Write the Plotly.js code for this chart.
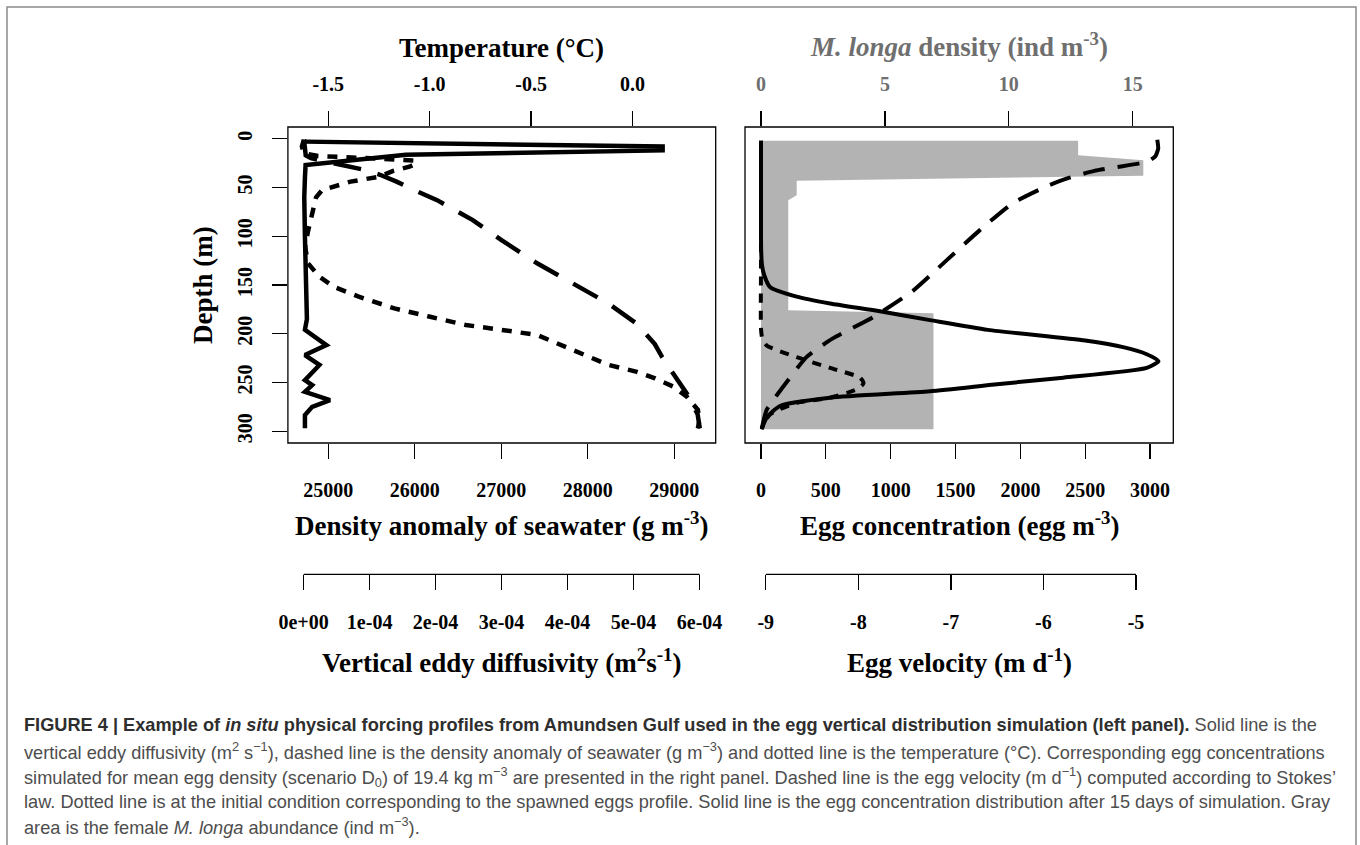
<!DOCTYPE html>
<html><head><meta charset="utf-8">
<script src="https://cdn.plot.ly/plotly-3.0.1.min.js"></script>
<style>html,body{margin:0;padding:0;background:#fff;} #chart{width:1360px;height:845px;}</style>
</head><body><div id="chart"></div>
<script>
// ---------------- DATA ----------------
// Left panel
const depthTemp = [1, 8, 15, 17.8, 19.5, 21, 22.5, 26, 28.7, 33, 39, 44, 52.6, 60, 76.5, 95, 110.8, 127.8, 141.5, 151.8, 162, 174, 182.6, 191, 196, 201.3, 216.7, 232, 239, 245.7, 254, 264.6, 278, 288.5, 297];
const temperature = [-1.62, -1.63, -1.62, -1.55, -1.35, -1.15, -1.07, -1.07, -1.1, -1.18, -1.25, -1.39, -1.53, -1.56, -1.58, -1.6, -1.614, -1.6, -1.544, -1.473, -1.35, -1.174, -0.998, -0.822, -0.646, -0.47, -0.294, -0.118, 0.022, 0.111, 0.199, 0.268, 0.322, 0.33, 0.322];

const depthDens = [1, 10, 17, 20, 23, 27, 32, 37, 44, 52.6, 63, 83.5, 104, 128, 149, 169, 190, 210.6, 224, 245, 262, 282.5, 297];
const densityAnomaly = [24720, 24725, 24740, 24800, 24950, 25200, 25420, 25599, 25790, 25990, 26259, 26671, 27003, 27420, 27830, 28240, 28570, 28775, 28860, 29020, 29150, 29270, 29295];

const depthKz = [2, 3, 8, 12, 16.5, 27, 40, 60, 100, 150, 185, 196, 204, 211.6, 221.8, 232, 247.5, 252.6, 259.5, 268, 274.9, 283.4, 297];
const eddyDiffusivity = [0.0000005, 0.000002, 0.000544, 0.000544, 0.000155, 0.000003, 0.000002, 0.000001, 0.000002, 0.000003, 0.000005, 0.000002, 0.000018, 0.0000345, 0.000002, 0.000024, 0.000002, 0.000013, 0.000002, 0.00004, 0.000013, 0.000002, 0.000002];

// Right panel
const depthLonga = [2, 17, 22, 38, 43, 58, 63, 176, 179, 298];
const longaDensity = [12.8, 12.8, 15.43, 15.43, 1.44, 1.44, 1.1, 1.1, 6.96, 6.96];

const depthEgg15 = [2, 50, 100, 118, 130, 140, 152, 162, 169, 177, 186, 196, 207, 214, 221, 228, 235, 245, 252, 259, 265.6, 274, 286, 298];
const eggConc15d = [0, 0, 0, 2, 8, 25, 69, 275, 532, 917, 1303, 1750, 2500, 2800, 2974, 3065, 2974, 2331, 1800, 1303, 532, 146, 44, 5];

const depthEgg0 = [2, 130, 195, 205, 212, 224, 235, 245, 251, 257, 265.6, 270.8, 282.7, 297];
const eggConcInit = [0, 0, 0, 10, 44, 275, 532, 763, 790, 738, 532, 275, 69, 5];

const depthVel = [1, 10, 18, 22, 25, 29, 33, 40, 49, 66, 94, 125, 156, 183, 205, 224, 254, 278, 296];
const eggVelocity = [-4.77, -4.76, -4.79, -4.85, -4.95, -5.2, -5.45, -5.72, -5.97, -6.33, -6.69, -7.05, -7.41, -7.84, -8.28, -8.56, -8.81, -8.99, -9.04];

// Tick labels
const depthTicks = [0, 50, 100, 150, 200, 250, 300];
const tempTicks = [-1.5, -1.0, -0.5, 0.0];
const tempTickText = ['-1.5', '-1.0', '-0.5', '0.0'];
const densTicks = [25000, 26000, 27000, 28000, 29000];
const kzTicks = [0, 0.0001, 0.0002, 0.0003, 0.0004, 0.0005, 0.0006];
const kzTickText = ['0e+00', '1e-04', '2e-04', '3e-04', '4e-04', '5e-04', '6e-04'];
const eggTicks = [0, 500, 1000, 1500, 2000, 2500, 3000];
const longaTicks = [0, 5, 10, 15];
const velTicks = [-9, -8, -7, -6, -5];

// ---------------- LAYOUT ----------------
const W = 1360, H = 845;
const px = v => v / W, py = v => 1 - v / H;
const leftDom = [px(287.9), px(715.7)];
const rightDom = [px(745), px(1173.3)];
const yDom = [py(443), py(127)];
const freeAxisPos = py(574.3);

const serif = 'Liberation Serif, Times New Roman, serif';
const tickFont = {family: serif, size: 20, color: '#000', weight: 'bold'};
const grayTickFont = {family: serif, size: 20, color: '#6f6f6f', weight: 'bold'};

function xax(extra) {
  return Object.assign({
    showgrid: false, zeroline: false, showline: false,
    ticks: 'outside', ticklen: 15, tickwidth: 1.3, tickcolor: '#000',
    tickfont: tickFont, fixedrange: true
  }, extra);
}

const lw = 4.5;
const traces = [
  // left panel
  {x: temperature, y: depthTemp, xaxis: 'x', yaxis: 'y', mode: 'lines',
   line: {color: '#000', width: lw, dash: '10px,9px'}, name: 'Temperature'},
  {x: densityAnomaly, y: depthDens, xaxis: 'x2', yaxis: 'y', mode: 'lines',
   line: {color: '#000', width: lw, dash: '28px,17px'}, name: 'Density anomaly'},
  {x: eddyDiffusivity, y: depthKz, xaxis: 'x3', yaxis: 'y', mode: 'lines',
   line: {color: '#000', width: lw}, name: 'Vertical eddy diffusivity'},
  // right panel (base axis x4 = M. longa density, so the gray area is drawn first)
  {x: longaDensity, y: depthLonga, xaxis: 'x4', yaxis: 'y2', mode: 'lines',
   fill: 'tozerox', fillcolor: '#b3b3b3', line: {width: 0, color: '#b3b3b3'},
   name: 'M. longa density'},
  {x: eggConcInit, y: depthEgg0, xaxis: 'x5', yaxis: 'y2', mode: 'lines',
   line: {color: '#000', width: 4, dash: '9px,8px', shape: 'spline', smoothing: 0.6}, name: 'Initial eggs'},
  {x: eggConc15d, y: depthEgg15, xaxis: 'x5', yaxis: 'y2', mode: 'lines',
   line: {color: '#000', width: 4, shape: 'spline', smoothing: 0.6}, name: 'Egg concentration 15 d'},
  {x: eggVelocity, y: depthVel, xaxis: 'x6', yaxis: 'y2', mode: 'lines',
   line: {color: '#000', width: 4, dash: '22px,13px', shape: 'spline', smoothing: 0.5}, name: 'Egg velocity'}
];

const layout = {
  width: W, height: H,
  margin: {l: 0, r: 0, t: 0, b: 0, pad: 0},
  paper_bgcolor: '#fff', plot_bgcolor: 'rgba(0,0,0,0)',
  showlegend: false,
  font: {family: serif, color: '#000', size: 20},
  yaxis: {
    domain: yDom, range: [312, -12], anchor: 'x', side: 'left',
    showgrid: false, zeroline: false, showline: false,
    ticks: 'outside', ticklen: 15, tickwidth: 1.3, tickcolor: '#000',
    tickvals: depthTicks, tickangle: -90, tickfont: tickFont, ticklabelstandoff: 12, fixedrange: true
  },
  yaxis2: {
    domain: yDom, range: [312, -12], anchor: 'x4',
    showgrid: false, zeroline: false, showline: false, showticklabels: false, ticks: '', fixedrange: true
  },
  xaxis: xax({domain: leftDom, anchor: 'y', side: 'top', range: [-1.699, 0.410],
    tickvals: tempTicks, ticktext: tempTickText, ticklabelstandoff: 12}),
  xaxis2: xax({overlaying: 'x', anchor: 'y', side: 'bottom', range: [24534, 29479],
    tickvals: densTicks, ticktext: densTicks.map(String), ticklabelstandoff: 14}),
  xaxis3: xax({overlaying: 'x', anchor: 'free', position: freeAxisPos, side: 'bottom',
    range: [-0.0000238, 0.0006244], tickvals: kzTicks, ticktext: kzTickText, ticklabelstandoff: 15}),
  xaxis4: xax({domain: rightDom, anchor: 'y2', side: 'top', range: [-0.646, 16.64],
    tickvals: longaTicks, ticktext: longaTicks.map(String), tickfont: grayTickFont, ticklabelstandoff: 12}),
  xaxis5: xax({overlaying: 'x4', anchor: 'y2', side: 'bottom', range: [-123.4, 3179],
    tickvals: eggTicks, ticktext: eggTicks.map(String), ticklabelstandoff: 14}),
  xaxis6: xax({overlaying: 'x4', anchor: 'free', position: freeAxisPos, side: 'bottom',
    range: [-9.224, -4.597], tickvals: velTicks, ticktext: velTicks.map(String), ticklabelstandoff: 15}),
  shapes: [
    // outer figure frame
    {type: 'rect', xref: 'paper', yref: 'paper', x0: px(7), x1: px(1356), y0: -0.05, y1: py(7),
     line: {color: '#8a8a8a', width: 1.5}, fillcolor: 'rgba(0,0,0,0)', layer: 'below'},
    // panel boxes
    {type: 'rect', xref: 'paper', yref: 'paper', x0: leftDom[0], x1: leftDom[1], y0: yDom[0], y1: yDom[1],
     line: {color: '#000', width: 1.3}},
    {type: 'rect', xref: 'paper', yref: 'paper', x0: rightDom[0], x1: rightDom[1], y0: yDom[0], y1: yDom[1],
     line: {color: '#000', width: 1.3}},
    // detached axis lines (span first to last tick)
    {type: 'line', xref: 'x3', yref: 'paper', x0: kzTicks[0], x1: kzTicks[kzTicks.length - 1],
     y0: freeAxisPos, y1: freeAxisPos, line: {color: '#000', width: 1.3}},
    {type: 'line', xref: 'x6', yref: 'paper', x0: velTicks[0], x1: velTicks[velTicks.length - 1],
     y0: freeAxisPos, y1: freeAxisPos, line: {color: '#000', width: 1.3}}
  ],
  annotations: []
};

const titleFont = {family: serif, size: 27, color: '#000', weight: 'bold'};
function ann(text, xpx, ypx, extra) {
  layout.annotations.push(Object.assign({
    text: text, xref: 'paper', yref: 'paper', x: px(xpx), y: py(ypx),
    xanchor: 'center', yanchor: 'middle', showarrow: false, font: titleFont
  }, extra || {}));
}
const lc = (leftDom[0] + leftDom[1]) / 2 * W;
const rc = (rightDom[0] + rightDom[1]) / 2 * W;
ann('<b>Temperature (°C)</b>', lc, 48);
ann('<b><i>M. longa</i> density (ind m<sup>-3</sup>)</b>', rc, 45, {font: Object.assign({}, titleFont, {color: '#6f6f6f'})});
ann('<b>Depth (m)</b>', 203, 285, {textangle: -90});
ann('<b>Density anomaly of seawater (g m<sup>-3</sup>)</b>', lc, 524);
ann('<b>Egg concentration (egg m<sup>-3</sup>)</b>', rc, 524);
ann('<b>Vertical eddy diffusivity (m<sup>2</sup>s<sup>-1</sup>)</b>', lc, 661);
ann('<b>Egg velocity (m d<sup>-1</sup>)</b>', rc, 661);

// caption
const capFont = {family: 'Liberation Sans, Arial, sans-serif', size: 18.2, color: '#4d4d4d'};
const B = s => '<span style="color:#2e2e2e"><b>' + s + '</b></span>';
const captionLines = [
  B('FIGURE 4 | Example of <i>in situ</i> physical forcing profiles from Amundsen Gulf used in the egg vertical distribution simulation (left panel).') + ' Solid line is the',
  'vertical eddy diffusivity (m<sup>2</sup> s<sup>−1</sup>), dashed line is the density anomaly of seawater (g m<sup>−3</sup>) and dotted line is the temperature (°C). Corresponding egg concentrations',
  'simulated for mean egg density (scenario D<sub>0</sub>) of 19.4 kg m<sup>−3</sup> are presented in the right panel. Dashed line is the egg velocity (m d<sup>−1</sup>) computed according to Stokes’',
  'law. Dotted line is at the initial condition corresponding to the spawned eggs profile. Solid line is the egg concentration distribution after 15 days of simulation. Gray',
  'area is the female <i>M. longa</i> abundance (ind m<sup>−3</sup>).'
];
const capY = [725, 751, 777, 802, 826];
captionLines.forEach((t, i) => ann(t, 21.7, capY[i], {xanchor: 'left', align: 'left', font: capFont}));

Plotly.newPlot('chart', traces, layout, {displayModeBar: false, staticPlot: true});
</script></body></html>
